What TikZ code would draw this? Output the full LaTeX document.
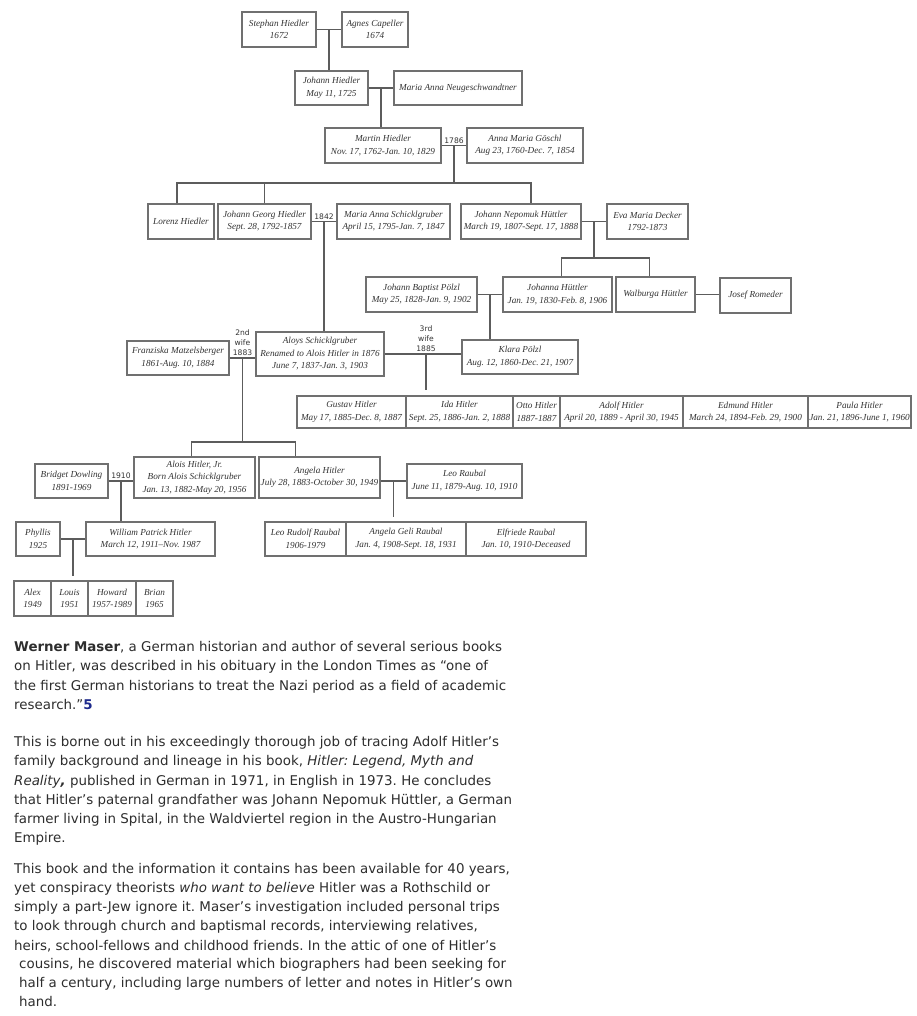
\documentclass[tikz,border=0pt]{standalone}
\usepackage{fontspec}
\setmainfont{Liberation Serif}
\newfontfamily\bodyfont{DejaVu Sans}
\usepackage{xcolor}
\usetikzlibrary{calc,positioning}
\definecolor{boxline}{HTML}{707070}
\definecolor{treeline}{HTML}{5C5C5C}
\definecolor{nametext}{HTML}{333333}
\definecolor{bodytext}{HTML}{2E2E2E}
\definecolor{notecol}{HTML}{1E2A8C}
\tikzset{
  person/.style={draw=boxline, line width=1.1pt, inner sep=1pt, align=center, text=nametext,
               font=\fontsize{9.2}{12.5}\selectfont\itshape},
  link/.style={draw=treeline, line width=1.1pt},
  yearlabel/.style={font=\bodyfont\fontsize{7.6}{10}\selectfont, text=nametext, align=center,
               inner sep=1pt, anchor=south},
  bodyline/.style={font=\bodyfont\fontsize{13.4}{16}\selectfont, text=bodytext, anchor=base west, inner sep=0pt},
}
% box from (x1,y1) to (x2,y2), in pixels of the page
\newcommand{\person}[6]{%
  \node[person, minimum width={#4-#2}, minimum height={#5-#3}] (#1) at ({(#2+#4)/2},{(#3+#5)/2}) {#6};}
% marriage line, and the point that the children hang from
\newcommand{\marry}[3]{%
  \draw[link] (#1.east) -- (#1.east -| #2.west);
  \coordinate (#3) at ($(#1.east)!0.5!(#1.east -| #2.west)$);}
\newcommand{\txtline}[4]{\node[bodyline] (#1) at (#2,#3) {#4};}

\begin{document}
\frenchspacing
\begin{tikzpicture}[x=1pt, y=-1pt]
  \fill[white] (0,0) rectangle (917,1016);
  \useasboundingbox (0,0) rectangle (917,1016);
  % first generations
  \person{stephan}{242}{12}{316}{47}{Stephan Hiedler\\1672}
  \person{agnes}{342}{12}{408}{47}{Agnes Capeller\\1674}
  \person{johann}{295}{71}{368}{105}{Johann Hiedler\\May 11, 1725}
  \person{neuges}{394}{71}{522}{105}{Maria Anna Neugeschwandtner}
  \person{martin}{325}{128}{441}{163}{Martin Hiedler\\Nov. 17, 1762-Jan. 10, 1829}
  \person{goeschl}{467}{128}{583}{163}{Anna Maria Göschl\\Aug 23, 1760-Dec. 7, 1854}
  \person{lorenz}{148}{204}{214}{239}{Lorenz Hiedler}
  \person{georg}{218}{204}{311}{239}{Johann Georg Hiedler\\Sept. 28, 1792-1857}
  \person{schickl}{337}{204}{450}{239}{Maria Anna Schicklgruber\\April 15, 1795-Jan. 7, 1847}
  \person{nepomuk}{461}{204}{581}{239}{Johann Nepomuk Hüttler\\March 19, 1807-Sept. 17, 1888}
  \person{decker}{607}{204}{688}{239}{Eva Maria Decker\\1792-1873}
  \person{poelzl}{366}{277}{477}{312}{Johann Baptist Pölzl\\May 25, 1828-Jan. 9, 1902}
  \person{johanna}{503}{277}{612}{312}{Johanna Hüttler\\Jan. 19, 1830-Feb. 8, 1906}
  \person{walburga}{616}{277}{695}{312}{Walburga Hüttler}
  \person{romeder}{720}{278}{791}{313}{Josef Romeder}
  \person{franziska}{127}{341}{229}{375}{Franziska Matzelsberger\\1861-Aug. 10, 1884}
  \person{aloys}{256}{332}{384}{376}{Aloys Schicklgruber\\Renamed to Alois Hitler in 1876\\June 7, 1837-Jan. 3, 1903}
  \person{klara}{462}{340}{578}{374}{Klara Pölzl\\Aug. 12, 1860-Dec. 21, 1907}
  % children of Aloys and Klara
  \person{gustav}{297}{396}{406}{428}{Gustav Hitler\\May 17, 1885-Dec. 8, 1887}
  \person{ida}{406}{396}{513}{428}{Ida Hitler\\Sept. 25, 1886-Jan. 2, 1888}
  \person{otto}{513}{396}{560}{428}{Otto Hitler\\1887-1887}
  \person{adolf}{560}{396}{683}{428}{Adolf Hitler\\April 20, 1889 - April 30, 1945}
  \person{edmund}{683}{396}{808}{428}{Edmund Hitler\\March 24, 1894-Feb. 29, 1900}
  \person{paula}{808}{396}{911}{428}{Paula Hitler\\Jan. 21, 1896-June 1, 1960}
  % children of Aloys and Franziska
  \person{bridget}{35}{464}{108}{498}{Bridget Dowling\\1891-1969}
  \person{aloisjr}{134}{457}{255}{498}{Alois Hitler, Jr.\\Born Alois Schicklgruber\\Jan. 13, 1882-May 20, 1956}
  \person{angela}{259}{457}{380}{498}{Angela Hitler\\July 28, 1883-October 30, 1949}
  \person{leo}{407}{464}{522}{498}{Leo Raubal\\June 11, 1879-Aug. 10, 1910}
  \person{phyllis}{16}{522}{60}{556}{Phyllis\\1925}
  \person{william}{86}{522}{215}{556}{William Patrick Hitler\\March 12, 1911–Nov. 1987}
  \person{leorudolf}{265}{522}{346}{556}{Leo Rudolf Raubal\\1906-1979}
  \person{geli}{346}{522}{466}{556}{Angela Geli Raubal\\Jan. 4, 1908-Sept. 18, 1931}
  \person{elfriede}{466}{522}{586}{556}{Elfriede Raubal\\Jan. 10, 1910-Deceased}
  \person{alex}{14}{581}{51}{616}{Alex\\1949}
  \person{louis}{51}{581}{88}{616}{Louis\\1951}
  \person{howard}{88}{581}{136}{616}{Howard\\1957-1989}
  \person{brian}{136}{581}{173}{616}{Brian\\1965}
  % marriages
  \marry{stephan}{agnes}{m1}
  \marry{johann}{neuges}{m2}
  \marry{martin}{goeschl}{m3}
  \marry{georg}{schickl}{m6}
  \marry{nepomuk}{decker}{m4}
  \marry{poelzl}{johanna}{m5}
  \draw[link] (walburga.east) -- (walburga.east -| romeder.west);
  \marry{franziska}{aloys}{m7}
  \marry{aloys}{klara}{m8}
  \marry{bridget}{aloisjr}{m9}
  \draw[link] (leo.west -| angela.east) -- (leo.west);
  \coordinate (m10) at ($(leo.west -| angela.east)!0.5!(leo.west)$);
  \marry{phyllis}{william}{m11}
  \node[yearlabel] (y1786) at ([yshift=1pt]m3) {1786};
  \node[yearlabel] (y1842) at ([yshift=1pt]m6) {1842};
  \node[yearlabel] (y1883) at ([yshift=1pt]m7) {2nd\\wife\\1883};
  \node[yearlabel] (y1885) at ([xshift=3pt,yshift=1pt]m8) {3rd\\wife\\1885};
  \node[yearlabel] (y1910) at ([yshift=1pt]m9) {1910};
  % descent
  \draw[link] (m1) -- (m1 |- johann.north);
  \draw[link] (m2) -- (m2 |- martin.north);
  \coordinate (bar3) at ([yshift=-37.5pt]m3);
  \coordinate (d3a) at ([xshift=-4pt]lorenz.north);
  \coordinate (d3b) at ([xshift=10pt]nepomuk.north);
  \draw[link] (m3) -- (bar3);
  \draw[link] (d3a) |- (bar3) -| (d3b);
  \draw[link] (georg.north) -- (georg.north |- bar3);
  \coordinate (bar4) at ([yshift=-36.5pt]m4);
  \coordinate (d4a) at ([xshift=4pt]johanna.north);
  \coordinate (d4b) at ([xshift=-6pt]walburga.north);
  \draw[link] (m4) -- (bar4);
  \draw[link] (d4a) |- (bar4) -| (d4b);
  \draw[link] (m5) -- (m5 |- klara.north);
  \draw[link] (m6) -- (m6 |- aloys.north);
  \coordinate (bar7) at ([yshift=-84pt]m7);
  \coordinate (d7a) at ([xshift=-3pt]aloisjr.north);
  \coordinate (d7b) at ([xshift=-24pt]angela.north);
  \draw[link] (m7) -- (bar7);
  \draw[link] (d7a) |- (bar7) -| (d7b);
  \coordinate (c8) at ([xshift=3pt]m8 |- ida.north);
  \draw[link] ([xshift=3pt]m8) -- ([yshift=5pt]c8);
  \draw[link] (m9) -- (m9 |- william.north);
  \coordinate (c10) at (m10 |- geli.north);
  \draw[link] (m10) -- ([yshift=4pt]c10);
  \coordinate (c11) at (m11 |- louis.north);
  \draw[link] (m11) -- ([yshift=4pt]c11);
  % the text below the tree
  \txtline{l1}{14}{651.5}{\textbf{Werner Maser}, a German historian and author of several serious books}
  \txtline{l2}{14}{670.5}{on Hitler, was described in his obituary in the London Times as “one of}
  \txtline{l3}{14}{690}{the first German historians to treat the Nazi period as a field of academic}
  \txtline{l4}{14}{709.5}{research.”\textcolor{notecol}{\textbf{5}}}
  \txtline{l5}{14}{746.5}{This is borne out in his exceedingly thorough job of tracing Adolf Hitler’s}
  \txtline{l6}{14}{765.5}{family background and lineage in his book, \textit{Hitler: Legend, Myth and}}
  \txtline{l7}{14}{785}{\textit{Reality}\textbf{\textit{,}} published in German in 1971, in English in 1973. He concludes}
  \txtline{l8}{14}{804}{that Hitler’s paternal grandfather was Johann Nepomuk Hüttler, a German}
  \txtline{l9}{14}{823.5}{farmer living in Spital, in the Waldviertel region in the Austro-Hungarian}
  \txtline{l10}{14}{842.5}{Empire.}
  \txtline{l11}{14}{873.5}{This book and the information it contains has been available for 40 years,}
  \txtline{l12}{14}{892.5}{yet conspiracy theorists \textit{who want to believe} Hitler was a Rothschild or}
  \txtline{l13}{14}{911.5}{simply a part-Jew ignore it. Maser’s investigation included personal trips}
  \txtline{l14}{14}{930.5}{to look through church and baptismal records, interviewing relatives,}
  \txtline{l15}{14}{950}{heirs, school-fellows and childhood friends. In the attic of one of Hitler’s}
  \txtline{l16}{19}{968.5}{cousins, he discovered material which biographers had been seeking for}
  \txtline{l17}{19}{987.5}{half a century, including large numbers of letter and notes in Hitler’s own}
  \txtline{l18}{19}{1006.5}{hand.}
\end{tikzpicture}
\end{document}
